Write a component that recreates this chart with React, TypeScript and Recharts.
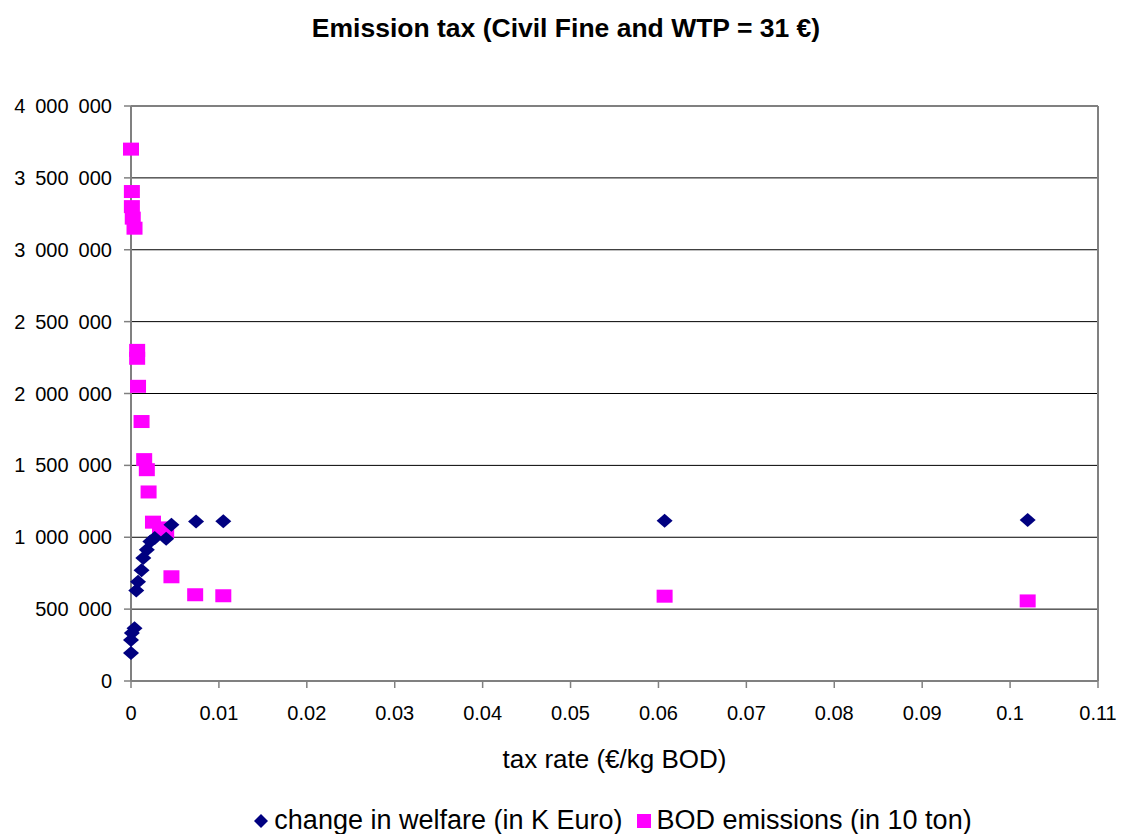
import React from 'react';
import { ScatterChart, Scatter, XAxis, YAxis, CartesianGrid, ReferenceLine } from 'recharts';

// tax rate (€/kg BOD) vs. welfare change and BOD emissions
const welfareX = [0, 0, 0.0001, 0.0004, 0.0006, 0.0008, 0.0012, 0.0014, 0.0018, 0.0022, 0.0027, 0.004, 0.0046, 0.0074, 0.0105, 0.0607, 0.102];
const welfareY = [195000, 286000, 334000, 367000, 630000, 690000, 770000, 855000, 913000, 970000, 995000, 990000, 1087000, 1110000, 1112000, 1115000, 1120000];

const bodX = [0, 0.0001, 0.0001, 0.0002, 0.0004, 0.0007, 0.0007, 0.0008, 0.0012, 0.0015, 0.0018, 0.002, 0.0025, 0.0033, 0.004, 0.0046, 0.0073, 0.0105, 0.0607, 0.102];
const bodY = [3700000, 3405000, 3300000, 3220000, 3150000, 2300000, 2245000, 2050000, 1805000, 1540000, 1470000, 1315000, 1105000, 1065000, 1040000, 725000, 600000, 593000, 590000, 557000];

const xTicks = [0, 0.01, 0.02, 0.03, 0.04, 0.05, 0.06, 0.07, 0.08, 0.09, 0.1, 0.11];
const yTicks = [0, 500000, 1000000, 1500000, 2000000, 2500000, 3000000, 3500000, 4000000];

const welfareData = welfareX.map((x, i) => ({ x, y: welfareY[i] }));
const bodData = bodX.map((x, i) => ({ x, y: bodY[i] }));

const NAVY = '#000080';
const MAGENTA = '#FF00FF';
const FONT = '"Liberation Sans", Arial, sans-serif';

const fmtY = (v: number) => String(v).replace(/\B(?=(\d{3})+(?!\d))/g, '\u2002');
const fmtX = (v: number) => String(+v.toFixed(2));

const Diamond = (props: any) => {
  const { cx, cy } = props;
  return <polygon points={`${cx},${cy - 7} ${cx + 8},${cy} ${cx},${cy + 7} ${cx - 8},${cy}`} fill={NAVY} />;
};

const Square = (props: any) => {
  const { cx, cy } = props;
  return <rect x={cx - 8} y={cy - 6.5} width={16} height={13} fill={MAGENTA} />;
};

export default function App() {
  return (
    <div style={{ position: 'absolute', left: 0, top: 0, width: 1121, height: 834, background: '#fff', fontFamily: FONT }}>
      <div style={{ position: 'absolute', left: 0, top: 13, width: 1132, textAlign: 'center', fontSize: 26.5, fontWeight: 'bold', color: '#000' }}>
        Emission tax (Civil Fine and WTP = 31 €)
      </div>
      <ScatterChart width={1121} height={834} margin={{ top: 106, right: 23, bottom: 53, left: 11 }}>
        <CartesianGrid vertical={false} stroke="#000" strokeWidth={1} />
        <XAxis
          type="number"
          dataKey="x"
          domain={[0, 0.11]}
          ticks={xTicks}
          tickFormatter={fmtX}
          height={100}
          tickSize={7}
          tickMargin={18}
          axisLine={{ stroke: '#808080', strokeWidth: 2 }}
          tickLine={{ stroke: '#808080', strokeWidth: 1.5 }}
          tick={{ fill: '#000', fontSize: 20, fontFamily: FONT }}
          interval={0}
          label={{ value: 'tax rate (€/kg BOD)', position: 'insideBottom', offset: 13, fill: '#000', fontSize: 26, fontFamily: FONT }}
        />
        <YAxis
          type="number"
          dataKey="y"
          domain={[0, 4000000]}
          ticks={yTicks}
          tickFormatter={fmtY}
          width={120}
          tickSize={7}
          tickMargin={12}
          axisLine={{ stroke: '#808080', strokeWidth: 2 }}
          tickLine={{ stroke: '#808080', strokeWidth: 1.5 }}
          tick={{ fill: '#000', fontSize: 20, fontFamily: FONT }}
          interval={0}
        />
        <ReferenceLine y={4000000} stroke="#808080" strokeWidth={2} />
        <ReferenceLine x={0.11} stroke="#808080" strokeWidth={2} />
        <Scatter name="BOD emissions (in 10 ton)" data={bodData} shape={Square} isAnimationActive={false} />
        <Scatter name="change in welfare (in K Euro)" data={welfareData} shape={Diamond} isAnimationActive={false} />
      </ScatterChart>
      <div style={{ position: 'absolute', left: 0, top: 805, width: 1226, display: 'flex', justifyContent: 'center', alignItems: 'center', fontSize: 27, color: '#000' }}>
        <svg width={14} height={14} style={{ marginRight: 6 }}>
          <polygon points="7,0 14,7 7,14 0,7" fill={NAVY} />
        </svg>
        <span>change in welfare (in K Euro)</span>
        <svg width={14} height={14} style={{ marginLeft: 14, marginRight: 6 }}>
          <rect x={0} y={0} width={14} height={14} fill={MAGENTA} />
        </svg>
        <span>BOD emissions (in 10 ton)</span>
      </div>
    </div>
  );
}
